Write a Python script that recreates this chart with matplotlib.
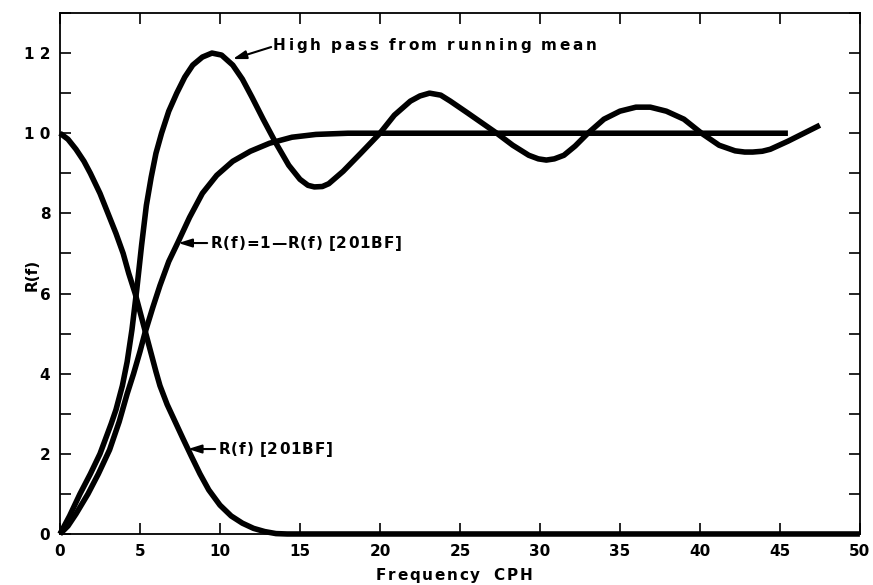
import matplotlib
matplotlib.use("Agg")
import matplotlib.pyplot as plt
from matplotlib.ticker import MultipleLocator
from matplotlib.transforms import offset_copy

# high pass from running mean
f_rm = [0, 0.6, 1.25, 1.9, 2.5, 3.2, 3.5, 3.9, 4.2, 4.5, 4.8, 5.1, 5.4, 5.7, 6.0, 6.35, 6.8, 7.3,
        7.8, 8.3, 8.9, 9.5, 10.1, 10.8, 11.4, 12.0, 12.7, 13.5, 14.3, 15.0, 15.5, 15.9, 16.4,
        16.8, 17.7, 18.8, 20.0, 20.9, 21.9, 22.5, 23.1, 23.8, 24.4, 25.5, 26.4, 27.3, 28.3, 29.3,
        29.9, 30.4, 30.9, 31.5, 32.2, 33.0, 34.0, 35.0, 36.0, 36.9, 37.9, 39.0, 40.1, 41.2, 42.2,
        42.8, 43.3, 43.9, 44.4, 45.5, 46.5, 47.5]
r_rm = [0, 0.045, 0.1, 0.15, 0.2, 0.275, 0.31, 0.37, 0.43, 0.51, 0.61, 0.72, 0.82, 0.89, 0.95,
        1.0, 1.055, 1.1, 1.14, 1.17, 1.19, 1.2, 1.195, 1.17, 1.135, 1.09, 1.035, 0.975, 0.92,
        0.885, 0.87, 0.866, 0.867, 0.874, 0.905, 0.95, 1.0, 1.045, 1.08, 1.093, 1.1, 1.095, 1.08,
        1.05, 1.025, 1.0, 0.97, 0.945, 0.936, 0.933, 0.936, 0.945, 0.968, 1.0, 1.035, 1.055,
        1.065, 1.065, 1.055, 1.035, 1.0, 0.97, 0.956, 0.953, 0.953, 0.955, 0.96, 0.98, 1.0, 1.02]

# R(f) [201BF]
f_lp = [0, 0.5, 1.0, 1.5, 1.9, 2.5, 3.1, 3.5, 3.95, 4.3, 4.7, 5.0, 5.3, 5.7, 6.0, 6.25, 6.7, 7.2,
        7.7, 8.2, 8.75, 9.3, 10.0, 10.7, 11.4, 12.1, 12.8, 13.5, 14.2, 20, 30, 40, 50]
r_lp = [1.0, 0.985, 0.96, 0.93, 0.9, 0.85, 0.79, 0.75, 0.70, 0.65, 0.6, 0.555, 0.51, 0.45, 0.405,
        0.37, 0.323, 0.28, 0.237, 0.195, 0.15, 0.11, 0.072, 0.045, 0.027, 0.014, 0.006, 0.001, 0,
        0, 0, 0, 0]

# R(f) = 1 - R(f) [201BF]
f_hp = [0, 0.5, 1, 1.75, 2.4, 3.1, 3.7, 4.2, 4.6, 5.0, 5.3, 5.8, 6.25, 6.8, 7.4, 8.1, 8.9, 9.8,
        10.8, 11.9, 13.1, 14.5, 16, 18, 20, 25, 30, 35, 40, 45.5]
r_hp = [0, 0.02, 0.05, 0.1, 0.15, 0.21, 0.28, 0.35, 0.4, 0.455, 0.5, 0.565, 0.62, 0.68, 0.73,
        0.79, 0.85, 0.895, 0.93, 0.955, 0.975, 0.99, 0.997, 1.0, 1.0, 1.0, 1.0, 1.0, 1.0, 1.0]

ylabels = ["0", "2", "4", "6", "8", "1 0", "1 2"]
xlabels = ["0", "5", "10", "15", "20", "25", "30", "35", "40", "45", "50"]

fig = plt.figure(figsize=(8.73, 5.85), dpi=100)
ax = fig.add_axes([0.0687, 0.0872, 0.9163, 0.8906])

lw = 4.0
for fx, ry in [(f_rm, r_rm), (f_lp, r_lp), (f_hp, r_hp)]:
    ax.plot(fx, ry, color="black", lw=lw, solid_capstyle="butt", solid_joinstyle="round",
            clip_on=False)

ax.set_xlim(0, 50)
ax.set_ylim(0, 1.3)
ax.set_xticks(range(0, 51, 5))
ax.set_xticklabels(xlabels)
ax.set_yticks([0, 0.2, 0.4, 0.6, 0.8, 1.0, 1.2])
ax.set_yticklabels(ylabels)
ax.yaxis.set_minor_locator(MultipleLocator(0.1))
ax.tick_params(which="both", direction="in", length=8, width=1.2, top=True, right=True,
               labelsize=11, pad=7)
for lab in ax.get_xticklabels() + ax.get_yticklabels():
    lab.set_fontweight("bold")
for sp in ax.spines.values():
    sp.set_linewidth(1.3)

renderer = fig.canvas.get_renderer()


def tracked(x, y, s, track, base, size=11, ha="left"):
    # letter spaced text, one glyph at a time
    widths = []
    for ch in s:
        if ch == " ":
            widths.append(size * 0.4)
            continue
        t = fig.text(0, 0, ch, fontsize=size, fontweight="bold")
        widths.append(t.get_window_extent(renderer).width)
        t.remove()
    total = sum(widths) + track * (len(s) - 1)
    dx = -total / 2 if ha == "center" else 0
    for ch, w in zip(s, widths):
        if ch != " ":
            tr = offset_copy(base, fig=fig, x=dx, y=0, units="dots")
            fig.text(x, y, ch, transform=tr, fontsize=size, fontweight="bold",
                     va="center", ha="left")
        dx += w + track


arrow = dict(arrowstyle="-|>,head_length=0.8,head_width=0.25", color="black", lw=1.5,
             shrinkA=0, shrinkB=0)
ax.annotate("", xy=(10.8, 1.185), xytext=(13.2, 1.215), arrowprops=arrow)
tracked(13.3, 1.22, "High pass from running mean", 2.8, ax.transData)

ax.annotate("", xy=(7.4, 0.726), xytext=(9.2, 0.726), arrowprops=arrow)
tracked(9.4, 0.726, "R(f)=1—R(f) [201BF]", 0.9, ax.transData)

ax.annotate("", xy=(8.0, 0.212), xytext=(9.7, 0.212), arrowprops=arrow)
tracked(9.9, 0.212, "R(f) [201BF]", 0.9, ax.transData)

tracked(0.52, 0.017, "Frequency  CPH", 1.7, fig.transFigure, ha="center")
fig.text(0.037, 0.53, "R(f)", rotation=90, fontsize=11, fontweight="bold",
         va="center", ha="center")

fig.savefig("out.png", dpi=100)
